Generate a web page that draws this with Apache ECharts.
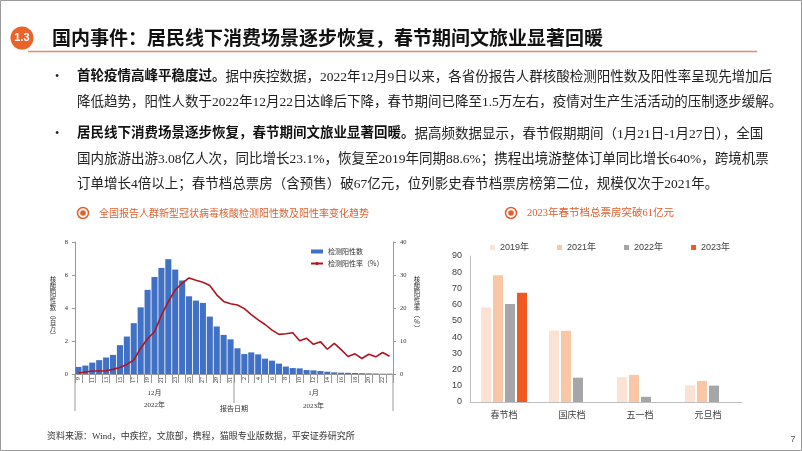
<!DOCTYPE html>
<html><head><meta charset="utf-8">
<script src="https://cdn.jsdelivr.net/npm/echarts@6/dist/echarts.min.js"></script>
<style>html,body{margin:0;padding:0;background:#fff}#c{width:802px;height:451px}</style>
</head><body><div id="c"></div>
<script>
// ---------- data ----------
const days = ['9','10','11','12','13','14','15','16','17','18','19','20','21','22','23','24','25','26','27','28','29','30','31',
  '1','2','3','4','5','6','7','8','9','10','11','12','13','14','15','16','17','18','19','20','21','22','23'];
const positives = [0.43,0.51,0.69,0.84,1.0,1.16,1.75,2.27,3.08,4.04,5.1,5.88,6.43,6.96,6.33,5.67,4.71,4.45,4.31,3.48,2.88,2.37,2.1,
  1.56,1.21,1.31,1.19,0.93,0.81,0.63,0.45,0.36,0.34,0.24,0.22,0.18,0.14,0.1,0.08,0.07,0.06,0.05,0.04,0.03,0.02,0.02];
const positiveRate = [0.3,0.6,0.9,0.9,1.0,1.4,2.0,2.9,4.2,7.8,10.7,12.8,17.8,21.9,25.5,27.5,29.1,28.4,27.8,26.8,24.0,22.0,21.3,
  20.9,19.8,18.0,16.4,15.0,13.3,12.0,12.2,12.5,10.1,10.8,9.0,9.8,7.5,9.3,7.4,5.3,6.1,4.7,6.0,5.2,6.5,5.4];
const monthLabels = ['12月','1月'];
const yearLabels = ['2022年','2023年'];

const boxCats = ['春节档','国庆档','五一档','元旦档'];
const box2019 = [58.3, 44.0, 15.3, 10.3];
const box2021 = [78.2, 43.9, 16.7, 13.0];
const box2022 = [60.4, 15.0, 3.2, 10.1];
const box2023 = [67.3, null, null, null];

// ---------- styles ----------
const SERIF = "'Liberation Serif','Noto Sans CJK SC',serif";
const CJK = "'Noto Sans CJK SC',sans-serif";
const SANS = "'Liberation Sans','Noto Sans CJK SC',sans-serif";
const ORANGE = '#E0602F';

const chart = echarts.init(document.getElementById('c'), null, {renderer:'canvas'});

function bullet(y){ return {type:'text', x:57, y:y, style:{text:'•', font:'12px '+SERIF, fill:'#222', verticalAlign:'middle', align:'center'}}; }
function line(y, txt){
  return {type:'text', x:77, y:y, style:{text:txt, font:'13.5px '+SERIF, fill:'#222', verticalAlign:'middle',
    rich:{b:{fontWeight:'bold', fontSize:13.5, fontFamily:SERIF, fill:'#111'}, n:{fontSize:13.5, fontFamily:SERIF, fill:'#222'}}}};
}
function vtext(x, y, s){
  return {type:'text', x:x, y:y, style:{text:s.split('').join('\n'), font:'6.5px '+CJK, fill:'#333', align:'center', verticalAlign:'top', lineHeight:7}};
}
function circleIcon(cx, cy){
  return [
    {type:'circle', shape:{cx:cx, cy:cy, r:5.5}, style:{fill:'none', stroke:ORANGE, lineWidth:1.5}},
    {type:'circle', shape:{cx:cx, cy:cy, r:2.8}, style:{fill:ORANGE}}
  ];
}

const baseGraphic = [
  {type:'rect', shape:{x:0.5, y:0.5, width:801, height:450}, style:{fill:'none', stroke:'#9a9a9a', lineWidth:1}},
  {type:'circle', shape:{cx:22, cy:38, r:11.5}, style:{fill:'#E8642A'}},
  {type:'text', x:22, y:38, style:{text:'1.3', font:'bold 11px '+SANS, fill:'#fff', align:'center', verticalAlign:'middle'}},
  {type:'text', x:52, y:38, style:{text:'国内事件：居民线下消费场景逐步恢复，春节期间文旅业显著回暖', font:'bold 19px '+CJK, fill:'#111', verticalAlign:'middle'}},
  {type:'line', shape:{x1:28, y1:51.5, x2:757, y2:51.5}, style:{stroke:'#E8896A', lineWidth:1.5}},
  bullet(77), bullet(134),
  line(77, '{b|首轮疫情高峰平稳度过。}{n|据中疾控数据，2022年12月9日以来，各省份报告人群核酸检测阳性数及阳性率呈现先增加后}'),
  line(102, '{n|降低趋势，阳性人数于2022年12月22日达峰后下降，春节期间已降至1.5万左右，疫情对生产生活活动的压制逐步缓解。}'),
  line(134, '{b|居民线下消费场景逐步恢复，春节期间文旅业显著回暖。}{n|据高频数据显示，春节假期期间（1月21日-1月27日），全国}'),
  line(159, '{n|国内旅游出游3.08亿人次，同比增长23.1%，恢复至2019年同期88.6%；携程出境游整体订单同比增长640%，跨境机票}'),
  line(184, '{n|订单增长4倍以上；春节档总票房（含预售）破67亿元，位列影史春节档票房榜第二位，规模仅次于2021年。}'),
  ...circleIcon(83, 213),
  {type:'text', x:99, y:213, style:{text:'全国报告人群新型冠状病毒核酸检测阳性数及阳性率变化趋势', font:'10px '+CJK, fill:ORANGE, verticalAlign:'middle'}},
  ...circleIcon(511, 213),
  {type:'text', x:527, y:213, style:{text:'2023年春节档总票房突破61亿元', font:'10.5px '+SERIF, fill:ORANGE, verticalAlign:'middle'}},
  vtext(53, 276, '核酸阳性数︵百万︶'),
  vtext(417, 276, '核酸阳性率︵%︶'),
  {type:'text', x:47, y:437, style:{text:'资料来源：Wind，中疾控，文旅部，携程，猫眼专业版数据，平安证券研究所', font:'9px '+SERIF, fill:'#333', verticalAlign:'middle'}},
  {type:'text', x:793, y:440, style:{text:'7', font:'9px '+SANS, fill:'#555', verticalAlign:'middle', align:'center'}}
];

const option = {
  animation:false,
  textStyle:{fontFamily:SANS},
  grid:[
    {left:75, top:242, width:318, height:132},
    {left:470, top:256, width:272, height:146}
  ],
  legend:[
    {data:[{name:'检测阳性数', icon:'rect'}, {name:'检测阳性率（%）'}], orient:'vertical', left:305, top:243,
      itemWidth:12, itemHeight:4, itemGap:5, textStyle:{fontSize:7, color:'#333', fontFamily:CJK}},
    {data:['2019年','2021年','2022年','2023年'], left:485, top:238, icon:'rect', itemWidth:5, itemHeight:5, itemGap:28,
      textStyle:{fontSize:9, color:'#404040', fontFamily:SANS}}
  ],
  xAxis:[
    {type:'category', gridIndex:0, data:days, boundaryGap:true,
      axisLine:{lineStyle:{color:'#999', width:1}},
      axisTick:{show:true, interval:0, length:9, lineStyle:{color:'#999'}},
      axisLabel:{interval:1, rotate:90, fontSize:6, color:'#333', margin:3, fontFamily:SERIF}},
    {type:'category', gridIndex:1, data:boxCats,
      axisLine:{lineStyle:{color:'#BFBFBF'}}, axisTick:{show:false},
      axisLabel:{fontSize:9, color:'#404040', margin:8, fontFamily:CJK}}
  ],
  yAxis:[
    {type:'value', gridIndex:0, min:0, max:8, interval:2, position:'left',
      axisLine:{show:true, lineStyle:{color:'#999'}}, axisTick:{show:true, length:3, lineStyle:{color:'#999'}},
      splitLine:{show:false}, axisLabel:{fontSize:6.5, color:'#333', margin:7, fontFamily:SERIF}},
    {type:'value', gridIndex:0, min:0, max:40, interval:10, position:'right',
      axisLine:{show:true, lineStyle:{color:'#999'}}, axisTick:{show:true, length:3, lineStyle:{color:'#999'}},
      splitLine:{show:false}, axisLabel:{fontSize:6.5, color:'#333', margin:7, fontFamily:SERIF}},
    {type:'value', gridIndex:1, min:0, max:90, interval:10,
      axisLine:{show:true, lineStyle:{color:'#BFBFBF'}}, axisTick:{show:false},
      splitLine:{show:false}, axisLabel:{fontSize:9, color:'#404040', margin:8, fontFamily:SANS}}
  ],
  series:[
    {name:'检测阳性数', type:'bar', xAxisIndex:0, yAxisIndex:0, data:positives, barCategoryGap:'12%',
      itemStyle:{color:'#4171C4'}},
    {name:'检测阳性率（%）', type:'line', xAxisIndex:0, yAxisIndex:1, data:positiveRate, symbol:'none',
      lineStyle:{color:'#B0141F', width:1.6}, itemStyle:{color:'#B0141F'}},
    {name:'2019年', type:'bar', xAxisIndex:1, yAxisIndex:2, data:box2019, barWidth:10, barGap:'20%', itemStyle:{color:'#FCE2D3'}},
    {name:'2021年', type:'bar', xAxisIndex:1, yAxisIndex:2, data:box2021, barWidth:10, barGap:'20%', itemStyle:{color:'#F9C6A6'}},
    {name:'2022年', type:'bar', xAxisIndex:1, yAxisIndex:2, data:box2022, barWidth:10, barGap:'20%', itemStyle:{color:'#A6A6A8'}},
    {name:'2023年', type:'bar', xAxisIndex:1, yAxisIndex:2, data:box2023, barWidth:10, barGap:'20%', itemStyle:{color:'#F05A22'}}
  ],
  graphic:{elements:baseGraphic}
};
chart.setOption(option);

// month / year group labels under the left x axis, placed from the axis scale
const px = i => chart.convertToPixel({xAxisIndex:0}, i);
const step = px(1) - px(0);
const x0 = px(0) - step/2, xSplit = px(22) + step/2, xEnd = px(days.length-1) + step/2;
const yAxis0 = chart.convertToPixel({yAxisIndex:0}, 0);
const extra = [
  {type:'line', shape:{x1:x0, y1:yAxis0, x2:x0, y2:yAxis0+37}, style:{stroke:'#999', lineWidth:1}},
  {type:'line', shape:{x1:xSplit, y1:yAxis0, x2:xSplit, y2:yAxis0+29}, style:{stroke:'#999', lineWidth:1}},
  {type:'line', shape:{x1:xEnd, y1:yAxis0, x2:xEnd, y2:yAxis0+37}, style:{stroke:'#999', lineWidth:1}},
  {type:'text', x:(x0+xSplit)/2, y:yAxis0+19, style:{text:monthLabels[0], font:'7px '+SERIF, fill:'#333', align:'center', verticalAlign:'middle'}},
  {type:'text', x:(xSplit+xEnd)/2, y:yAxis0+19, style:{text:monthLabels[1], font:'7px '+SERIF, fill:'#333', align:'center', verticalAlign:'middle'}},
  {type:'text', x:(x0+xSplit)/2, y:yAxis0+31, style:{text:yearLabels[0], font:'7px '+SERIF, fill:'#333', align:'center', verticalAlign:'middle'}},
  {type:'text', x:(xSplit+xEnd)/2, y:yAxis0+32, style:{text:yearLabels[1], font:'7px '+SERIF, fill:'#333', align:'center', verticalAlign:'middle'}},
  {type:'text', x:xSplit, y:yAxis0+34, style:{text:'报告日期', font:'7px '+CJK, fill:'#333', align:'center', verticalAlign:'middle'}}
];
chart.setOption({graphic:{elements:baseGraphic.concat(extra)}});
</script>
</body></html>
